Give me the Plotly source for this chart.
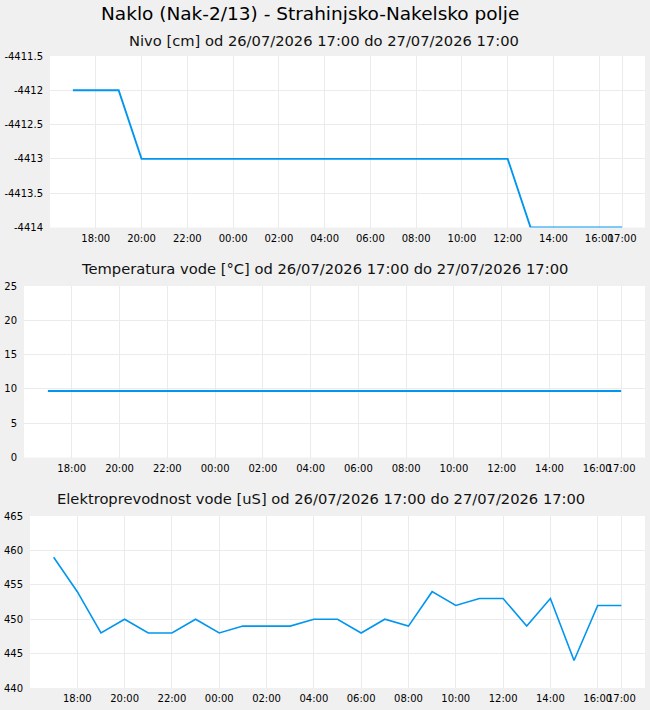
import plotly.graph_objects as go

main_title = "Naklo (Nak-2/13) - Strahinjsko-Nakelsko polje"
sub_titles = [
    "Nivo [cm] od 26/07/2026 17:00 do 27/07/2026 17:00",
    "Temperatura vode [°C] od 26/07/2026 17:00 do 27/07/2026 17:00",
    "Elektroprevodnost vode [uS] od 26/07/2026 17:00 do 27/07/2026 17:00",
]

times = [
    "2026-07-26 17:00", "2026-07-26 18:00", "2026-07-26 19:00", "2026-07-26 20:00",
    "2026-07-26 21:00", "2026-07-26 22:00", "2026-07-26 23:00", "2026-07-27 00:00",
    "2026-07-27 01:00", "2026-07-27 02:00", "2026-07-27 03:00", "2026-07-27 04:00",
    "2026-07-27 05:00", "2026-07-27 06:00", "2026-07-27 07:00", "2026-07-27 08:00",
    "2026-07-27 09:00", "2026-07-27 10:00", "2026-07-27 11:00", "2026-07-27 12:00",
    "2026-07-27 13:00", "2026-07-27 14:00", "2026-07-27 15:00", "2026-07-27 16:00",
    "2026-07-27 17:00",
]

nivo = [
    -4412, -4412, -4412, -4413, -4413, -4413, -4413, -4413,
    -4413, -4413, -4413, -4413, -4413, -4413, -4413, -4413,
    -4413, -4413, -4413, -4413, -4414, -4414, -4414, -4414,
    -4414,
]

temperatura = [
    9.7, 9.7, 9.7, 9.7, 9.7, 9.7, 9.7, 9.7,
    9.7, 9.7, 9.7, 9.7, 9.7, 9.7, 9.7, 9.7,
    9.7, 9.7, 9.7, 9.7, 9.7, 9.7, 9.7, 9.7,
    9.7,
]

prevodnost = [
    459, 454, 448, 450, 448, 448, 450, 448,
    449, 449, 449, 450, 450, 448, 450, 449,
    454, 452, 453, 453, 449, 453, 444, 452,
    452,
]

x_tickvals = [
    "2026-07-26 18:00", "2026-07-26 20:00", "2026-07-26 22:00", "2026-07-27 00:00",
    "2026-07-27 02:00", "2026-07-27 04:00", "2026-07-27 06:00", "2026-07-27 08:00",
    "2026-07-27 10:00", "2026-07-27 12:00", "2026-07-27 14:00", "2026-07-27 16:00",
    "2026-07-27 17:00",
]
x_ticktext = ["18:00", "20:00", "22:00", "00:00", "02:00", "04:00", "06:00",
              "08:00", "10:00", "12:00", "14:00", "16:00", "17:00"]
x_range = ["2026-07-26 16:00", "2026-07-27 18:00"]

y1_ticks = [-4414, -4413.5, -4413, -4412.5, -4412, -4411.5]
y1_text = ["-4414", "-4413.5", "-4413", "-4412.5", "-4412", "-4411.5"]
y2_ticks = [0, 5, 10, 15, 20, 25]
y3_ticks = [440, 445, 450, 455, 460, 465]

LINE = "#0096f0"
GRID = "#ebebeb"
FONT = "DejaVu Sans"
W, H = 650, 710

fig = go.Figure()
series = [nivo, temperatura, prevodnost]
widths = [1.9, 2.0, 1.6]
for i, ys in enumerate(series):
    fig.add_trace(go.Scatter(
        x=times, y=ys, mode="lines",
        line=dict(color=LINE, width=widths[i]),
        xaxis="x" if i == 0 else f"x{i+1}",
        yaxis="y" if i == 0 else f"y{i+1}",
        showlegend=False, hoverinfo="skip",
    ))

# pixel geometry: (left, top, bottom)
panels = [(50, 56, 227.5), (24, 286, 457.5), (30, 516, 688)]
right = 645
yticks = [(y1_ticks, y1_text, [-4414, -4411.5]),
          (y2_ticks, [str(v) for v in y2_ticks], [0, 25]),
          (y3_ticks, [str(v) for v in y3_ticks], [440, 465])]

layout = dict(
    template="none",
    width=W, height=H,
    margin=dict(l=0, r=0, t=0, b=0, pad=0),
    paper_bgcolor="#f0f0f0",
    plot_bgcolor="#ffffff",
    font=dict(family=FONT, size=10, color="#000000"),
    hovermode=False,
    showlegend=False,
)
for i, (l, t, b) in enumerate(panels):
    xa = "xaxis" if i == 0 else f"xaxis{i+1}"
    ya = "yaxis" if i == 0 else f"yaxis{i+1}"
    yname = "y" if i == 0 else f"y{i+1}"
    xname = "x" if i == 0 else f"x{i+1}"
    tv, tt, rng = yticks[i]
    layout[xa] = dict(
        domain=[l / W, right / W], anchor=yname, type="date", automargin=False,
        range=x_range, tickmode="array", tickvals=x_tickvals, ticktext=x_ticktext,
        tickangle=0, showgrid=True, gridcolor=GRID, gridwidth=1,
        zeroline=False, showline=False, ticks="outside", ticklen=1,
        tickcolor="rgba(0,0,0,0)",
        tickfont=dict(family=FONT, size=10, color="#000000"),
    )
    layout[ya] = dict(
        domain=[1 - b / H, 1 - t / H], anchor=xname, automargin=False,
        range=rng, tickmode="array", tickvals=tv, ticktext=tt,
        showgrid=True, gridcolor=GRID, gridwidth=1,
        zeroline=False, showline=False, ticks="outside", ticklen=4,
        tickcolor="rgba(0,0,0,0)", tickfont=dict(family=FONT, size=10, color="#000000"),
    )

annotations = [dict(
    text=main_title, x=310 / W, y=1 - 14 / H, xref="paper", yref="paper",
    xanchor="center", yanchor="middle", showarrow=False,
    font=dict(family=FONT, size=18.5, color="#000000"),
)]
for txt, xc, yc in zip(sub_titles, [324, 324, 321], [40, 269, 499]):
    annotations.append(dict(
        text=txt, x=xc / W, y=1 - yc / H, xref="paper", yref="paper",
        xanchor="center", yanchor="middle", showarrow=False,
        font=dict(family=FONT, size=14.7, color="#111111"),
    ))
layout["annotations"] = annotations

fig.update_layout(**layout)
fig.write_html("out.html")
